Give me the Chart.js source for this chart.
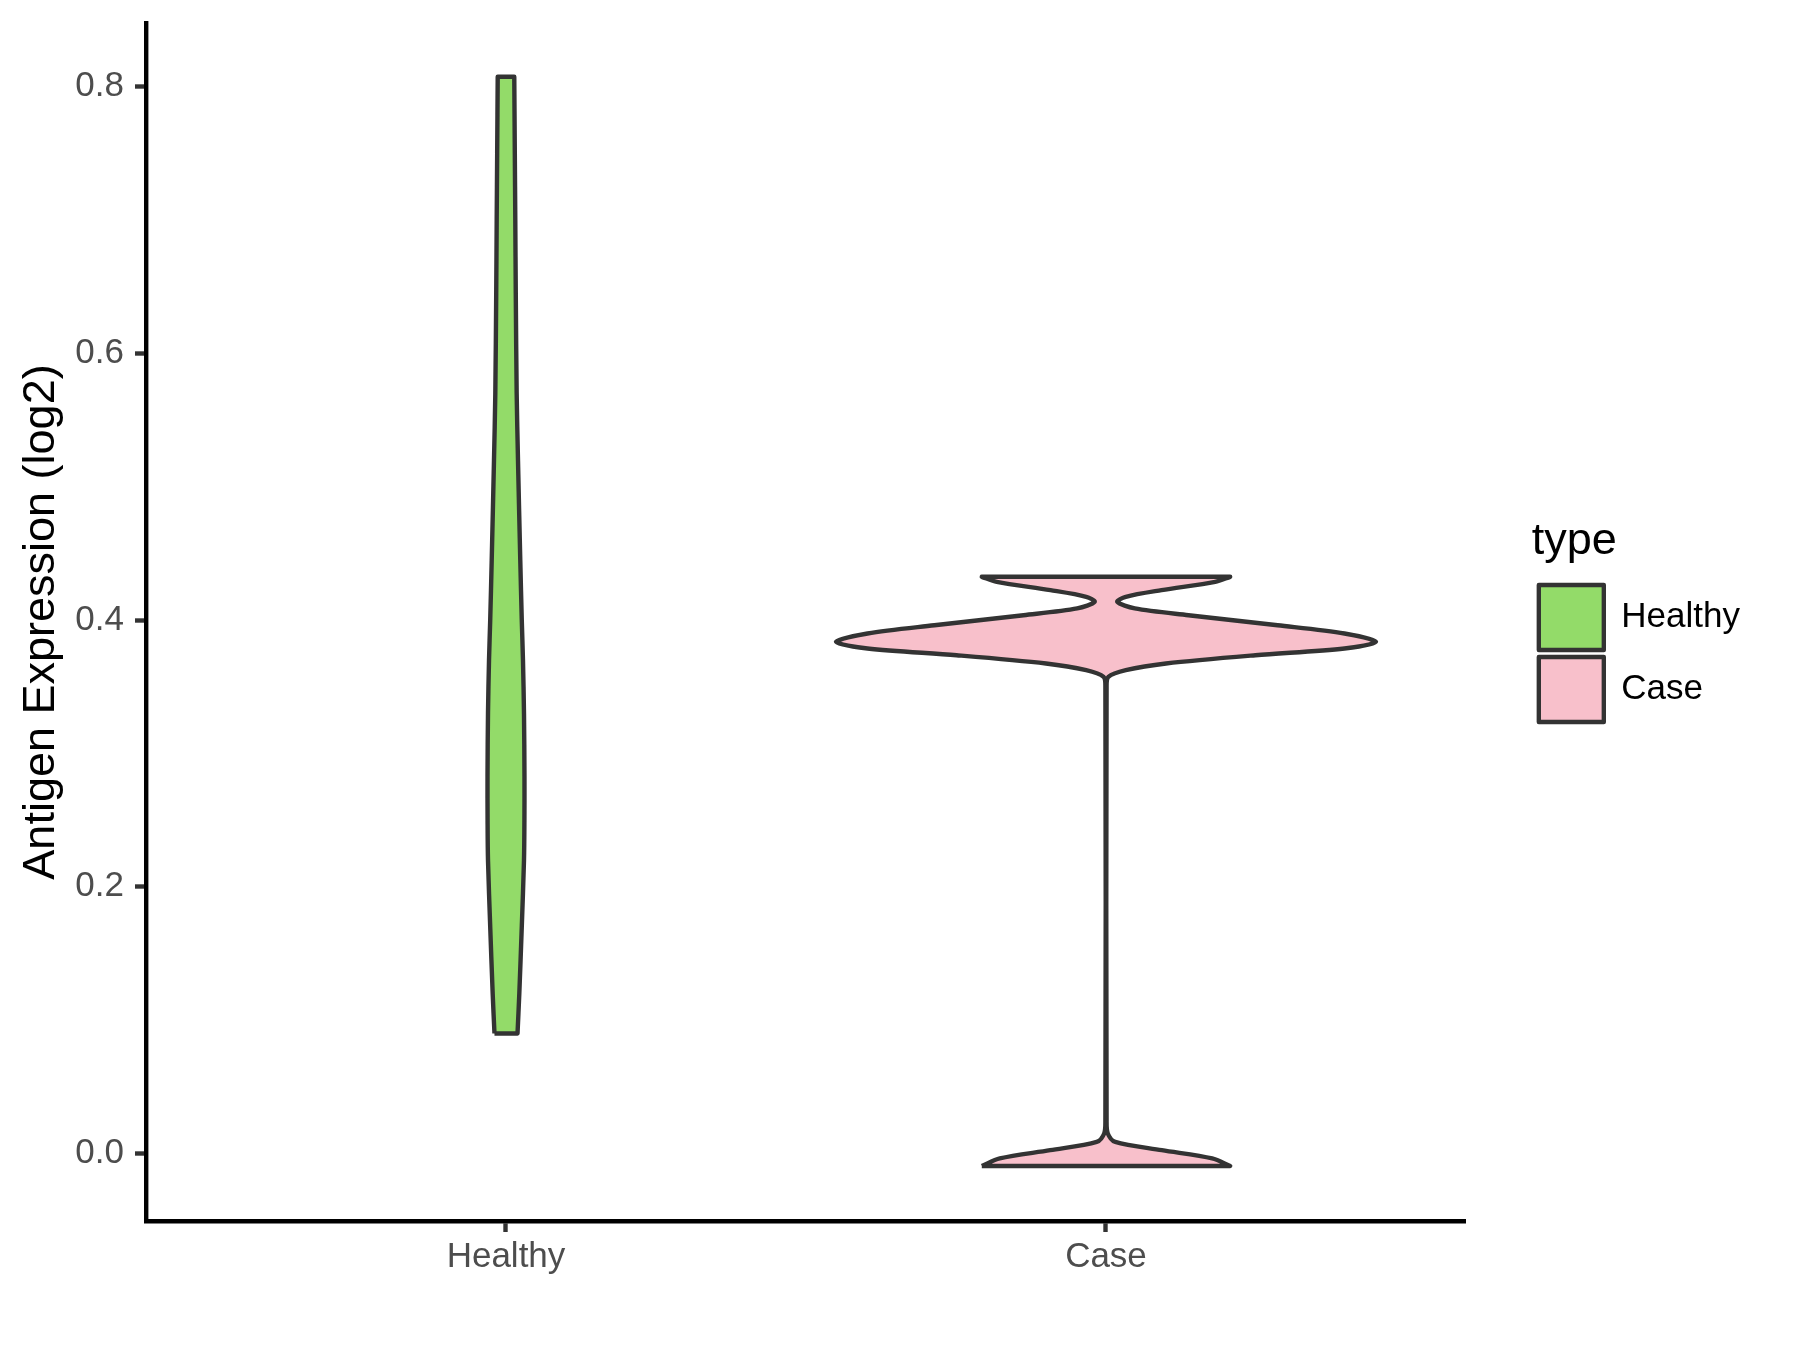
<!DOCTYPE html>
<html>
<head>
<meta charset="utf-8">
<script src="https://cdn.jsdelivr.net/npm/chart.js@4.4.0/dist/chart.umd.min.js"></script>
<style>
  html, body { margin: 0; padding: 0; background: #ffffff; }
  canvas { display: block; }
</style>
</head>
<body>
<canvas id="chart" width="1800" height="1350"></canvas>
<script>
// ---- data ----
const categories = ['Healthy', 'Case'];
const categoryPositions = [1, 2];
const yTickValues = [0.0, 0.2, 0.4, 0.6, 0.8];
const yTickLabels = ['0.0', '0.2', '0.4', '0.6', '0.8'];

// violin outline: expression value and half width (in category units)
const healthyValues     = [0.090, 0.120, 0.170, 0.220, 0.250, 0.283, 0.330, 0.370, 0.400, 0.445, 0.520, 0.570, 0.645, 0.700, 0.750, 0.8075];
const healthyHalfWidths = [0.0192, 0.0222, 0.0263, 0.0300, 0.0307, 0.0308, 0.0300, 0.0283, 0.0263, 0.0238, 0.0200, 0.0178, 0.0163, 0.0155, 0.0147, 0.0138];

const caseValues     = [-0.0093, -0.0037, 0.0025, 0.0087, 0.0150, 0.0250, 0.3500, 0.3575, 0.3625, 0.3675, 0.3737, 0.3787, 0.3837, 0.3900, 0.3962, 0.4037, 0.4088, 0.4137, 0.4175, 0.4225, 0.4287, 0.4325];
const caseHalfWidths = [0.207, 0.177, 0.093, 0.0155, 0.003, 0.001, 0.001, 0.004, 0.033, 0.100, 0.249, 0.3975, 0.450, 0.3975, 0.286, 0.1375, 0.048, 0.019, 0.033, 0.0925, 0.182, 0.207];

const fillColors = ['#93DB69', '#F8C0CB'];
const outlineColor = '#333333';

// ---- build closed violin outlines (left side upward, right side downward) ----
function violinPolygon(center, values, halfWidths) {
  const n = values.length;
  const pts = [];
  // duplicated corner points keep the trimmed ends sharp
  pts.push({ x: center - halfWidths[0], y: values[0] });
  for (let i = 0; i < n; i++) pts.push({ x: center - halfWidths[i], y: values[i] });
  pts.push({ x: center - halfWidths[n - 1], y: values[n - 1] });
  pts.push({ x: center + halfWidths[n - 1], y: values[n - 1] });
  for (let i = n - 1; i >= 0; i--) pts.push({ x: center + halfWidths[i], y: values[i] });
  pts.push({ x: center + halfWidths[0], y: values[0] });
  pts.push({ x: center - halfWidths[0], y: values[0] });
  return pts;
}

const violinSets = [
  [healthyValues, healthyHalfWidths],
  [caseValues, caseHalfWidths]
];

const FONT = "'Liberation Sans', Arial, Helvetica, sans-serif";
Chart.defaults.font.family = FONT;

new Chart(document.getElementById('chart'), {
  type: 'line',
  data: {
    datasets: categories.map((name, i) => ({
      label: name,
      data: violinPolygon(categoryPositions[i], violinSets[i][0], violinSets[i][1]),
      backgroundColor: fillColors[i],
      borderColor: outlineColor,
      borderWidth: 4.4,
      borderJoinStyle: 'round',
      fill: 'shape',
      tension: 0.3,
      pointRadius: 0,
      pointHoverRadius: 0
    }))
  },
  options: {
    responsive: false,
    animation: false,
    devicePixelRatio: 1,
    events: [],
    layout: { padding: { left: 0, top: 23, right: 50, bottom: 0 } },
    scales: {
      x: {
        type: 'linear',
        position: 'bottom',
        min: 0.4,
        max: 2.6,
        afterBuildTicks: s => { s.ticks = categoryPositions.map(v => ({ value: v })); },
        afterFit: s => { s.height = 129; s.paddingLeft = 0; s.paddingRight = 0; },
        ticks: {
          callback: (v, i) => categories[i],
          font: { family: FONT, size: 35 },
          color: '#4D4D4D',
          padding: 4,
          maxRotation: 0,
          autoSkip: false
        },
        grid: { display: true, drawOnChartArea: false, drawTicks: true, tickLength: 11, tickWidth: 4.4, tickColor: '#333333' },
        border: { display: true, color: '#000000', width: 4.4 }
      },
      y: {
        type: 'linear',
        position: 'left',
        min: -0.0506,
        max: 0.8478,
        afterBuildTicks: s => { s.ticks = yTickValues.map(v => ({ value: v })); },
        afterFit: s => { s.width = 146; s.paddingTop = 0; s.paddingBottom = 0; },
        ticks: {
          callback: (v, i) => yTickLabels[i],
          font: { family: FONT, size: 35 },
          color: '#4D4D4D',
          padding: 11,
          autoSkip: false
        },
        grid: { display: true, drawOnChartArea: false, drawTicks: true, tickLength: 11, tickWidth: 4.4, tickColor: '#333333' },
        border: { display: true, color: '#000000', width: 4.4 },
        title: {
          display: true,
          text: 'Antigen Expression (log2)',
          color: '#000000',
          font: { family: FONT, size: 45 },
          padding: { top: 15, bottom: 0 }
        }
      },
      gap: {
        type: 'linear',
        position: 'right',
        display: true,
        ticks: { display: false },
        grid: { display: false },
        border: { display: false },
        afterFit: s => { s.width = 65.85; s.paddingTop = 0; s.paddingBottom = 0; }
      }
    },
    plugins: {
      tooltip: { enabled: false },
      legend: {
        display: true,
        position: 'right',
        align: 'center',
        fullSize: false,
        title: {
          display: true,
          text: 'type',
          color: '#000000',
          position: 'start',
          font: { family: FONT, size: 45 },
          padding: { top: 4, bottom: 5 }
        },
        labels: {
          boxWidth: 65,
          boxHeight: 65,
          padding: 7,
          color: '#000000',
          font: { family: FONT, size: 35 }
        }
      }
    }
  }
});
</script>
</body>
</html>
